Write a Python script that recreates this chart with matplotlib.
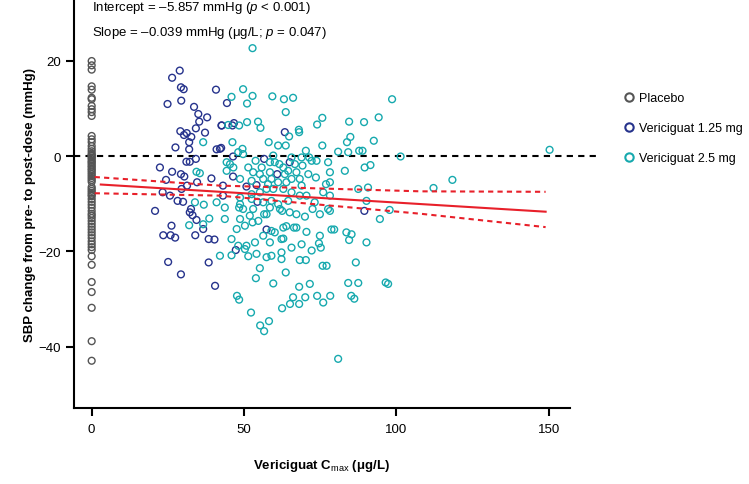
import matplotlib
matplotlib.use("Agg")
import matplotlib.pyplot as plt
from matplotlib.lines import Line2D
import numpy as np

plt.rcParams['font.family'] = ['Liberation Sans', 'DejaVu Sans']
plt.rcParams['mathtext.fontset'] = 'custom'
plt.rcParams['mathtext.rm'] = 'Liberation Sans'
plt.rcParams['mathtext.it'] = 'Liberation Sans:italic'
plt.rcParams['mathtext.bf'] = 'Liberation Sans:bold'

# ---------------- data ----------------
placebo_y = [19.9, 19.0, 18.1, 14.6, 13.9, 12.2, 11.9, 10.5, 9.8, 9.2, 8.4,
             4.2, 3.5, 2.9, 2.1, 1.5, 1.0, 0.5, 0.2, 0.0, -0.3, -0.6, -1.0,
             -1.3, -1.6, -2.0, -2.3, -2.7, -3.0, -3.4, -3.8, -4.2, -4.6, -5.0,
             -5.4, -6.5, -6.9, -7.3, -7.7, -8.1, -8.4, -9.0, -9.6, -10.2,
             -10.8, -11.5, -12.1, -12.5, -13.0, -13.6, -14.2, -14.8, -15.4,
             -16.0, -16.6, -17.2, -17.9, -18.5, -19.1, -19.7, -21.0, -22.8,
             -26.4, -28.5, -31.8, -38.8, -42.9]
placebo_x = [0.0] * len(placebo_y)

low_x = [28.9, 26.4, 29.3, 30.2, 29.4, 24.9, 33.6, 35.0, 37.9, 35.3, 34.2,
         37.2, 40.8, 29.1, 30.3, 31.2, 32.7, 32.0, 27.5, 32.0, 41.0, 42.5,
         42.7, 22.4, 26.4, 29.3, 30.4, 24.4, 23.3, 25.7, 28.2, 30.0, 20.8,
         32.6, 32.2, 33.1, 34.4, 26.2, 23.5, 25.9, 27.4, 34.0, 38.4, 40.3,
         36.6, 25.1, 38.4, 29.3, 40.5, 31.1, 32.2, 34.2, 39.3, 29.5, 31.3,
         34.6, 46.4, 56.6, 65.0, 46.4, 50.8, 54.1, 43.1, 43.1, 54.4, 57.4,
         47.3, 60.9, 42.1, 44.4, 42.6, 46.2, 46.7, 63.4, 89.5]
low_y = [17.9, 16.4, 14.4, 14.0, 11.6, 10.9, 10.3, 8.8, 8.1, 7.2, 5.8,
         4.9, 13.9, 5.2, 4.4, 4.8, 4.0, 2.9, 1.8, 1.4, 1.4, 1.7,
         6.4, -2.4, -3.3, -3.8, -4.3, -5.0, -7.6, -8.3, -9.4, -9.6, -11.5,
         -11.1, -11.8, -12.4, -13.4, -14.6, -16.6, -16.6, -17.1, -16.6, -17.4, -17.5,
         -15.3, -22.2, -22.3, -24.8, -27.2, -1.2, -1.2, -0.6, -4.7, -6.9, -6.2,
         -5.5, -0.1, -0.6, -1.3, -4.3, -6.4, -6.1, -6.2, -8.3, -9.6, -15.4,
         -19.7, -3.8, 1.5, 11.1, 6.4, 6.4, 6.9, 5.0, -11.5]

high_x = [52.8, 49.7, 45.9, 52.8, 51.0, 59.3, 63.1, 66.1, 63.7, 98.6, 75.7,
          74.0, 84.5, 89.4, 94.2, 51.0, 54.6, 55.4, 68.0, 68.1, 64.8, 46.2,
          58.1, 61.2, 63.7, 75.7, 83.8, 84.9, 92.6, 48.4,
          49.5, 80.9, 84.2, 87.8, 88.9, 101.4, 49.7, 48.1,
          45.4, 44.3, 46.5, 53.8, 55.8, 58.5, 59.6, 60.1, 61.6, 62.9, 65.6,
          66.7, 68.9, 70.3, 71.4, 72.2, 73.8, 77.6, 78.2, 83.1, 89.6, 91.5,
          69.2, 67.2, 64.5, 63.4, 58.5, 55.2, 51.4, 53.0,
          48.7, 52.5, 56.3, 57.9, 59.0, 61.2, 63.9, 65.6, 68.3, 68.9, 71.1,
          73.6, 76.9, 78.2, 65.6, 62.9, 59.6, 57.4, 55.2, 52.5,
          48.7, 52.5, 56.3, 59.0, 61.2, 64.5, 68.3, 70.5, 73.2, 76.0, 78.2,
          87.5, 90.7, 90.2, 48.7, 43.7,
          43.7, 48.4, 49.7, 53.0, 58.5, 61.8, 62.5, 65.0, 67.2, 70.0, 72.5,
          74.9, 77.6, 78.2, 94.6, 97.8, 51.9, 54.7, 56.6, 57.4, 48.7,
          45.9, 47.6, 50.3, 52.8, 56.3, 59.0, 60.1, 62.9, 63.9, 66.4, 67.2,
          70.5, 74.9, 78.7, 79.6, 83.6, 85.3, 62.3, 62.9,
          48.1, 50.8, 53.6, 58.5, 68.9, 74.6, 75.2, 84.5, 90.2, 72.2, 42.1,
          45.9, 50.3, 51.4, 54.1, 57.4, 62.3, 65.6,
          59.0, 62.3, 68.3, 70.3, 75.8, 77.1, 86.7, 55.2, 63.7, 53.9, 59.6,
          68.1, 71.6, 84.2, 87.5, 96.5, 97.3,
          150.3, 118.4, 112.2,
          36.6, 44.8, 34.4, 35.5, 36.8, 33.9, 32.0, 36.6, 38.6, 41.0, 44.3,
          47.7, 48.4, 52.3, 55.3, 56.6, 58.2, 62.5, 65.1, 66.1, 68.1, 70.1,
          74.0, 76.0, 78.3, 85.2, 86.2, 80.9]
high_y = [22.6, 14.0, 12.4, 12.6, 11.0, 12.5, 11.9, 12.2, 9.2, 11.9, 8.0,
          6.6, 7.2, 7.1, 8.1, 7.1, 7.2, 5.9, 5.5, 5.0, 4.1, 2.9,
          2.9, 2.2, 2.2, 2.2, 2.9, 4.0, 3.2, 6.4,
          1.5, 0.9, 0.8, 1.1, 1.1, -0.1, 0.4, 0.8,
          -1.7, -3.1, -2.4, -1.0, -2.4, -1.3, 0.1, -1.3, -1.7, -2.4, -0.3,
          -1.7, -0.3, 1.1, -0.3, -1.0, -1.0, -1.3, -3.4, -3.1, -2.4, -1.9,
          -2.0, -3.4, -3.1, -3.8, -3.4, -3.8, -2.4, -3.4,
          -4.8, -5.2, -4.8, -5.9, -4.8, -5.5, -5.5, -4.8, -4.8, -6.2, -3.8,
          -4.5, -5.9, -5.5, -7.6, -6.9, -6.9, -6.9, -7.6, -8.0,
          -8.7, -9.0, -9.7, -9.4, -10.1, -9.4, -8.3, -8.3, -9.7, -7.6, -8.3,
          -6.9, -6.6, -9.4, -10.1, -10.8,
          -13.2, -10.8, -11.1, -11.1, -10.8, -11.1, -11.5, -11.8, -12.2, -12.7, -11.1,
          -12.2, -11.1, -11.5, -13.2, -11.3, -12.5, -13.6, -12.2, -12.2, -13.2,
          -17.4, -15.3, -14.6, -13.9, -16.7, -15.7, -16.0, -15.0, -14.7, -15.0, -15.0,
          -15.9, -16.7, -15.4, -15.4, -16.0, -16.4, -17.4, -17.3,
          -18.8, -18.8, -18.1, -18.1, -18.5, -18.3, -19.2, -17.6, -18.1, -19.8, -20.9,
          -20.8, -19.5, -21.0, -20.5, -21.2, -20.2, -19.2,
          -20.9, -21.6, -21.8, -21.8, -23.0, -23.0, -22.3, -23.5, -24.4, -25.6, -26.7,
          -27.4, -26.8, -26.6, -26.6, -26.5, -26.8,
          1.3, -5.0, -6.7,
          2.9, 6.5, -3.3, -3.6, -10.2, -9.7, -14.5, -14.3, -13.1, -9.7, -1.3,
          -29.3, -30.1, -32.8, -35.5, -36.7, -34.6, -31.9, -31.0, -29.6, -31.0, -29.6,
          -29.3, -30.7, -29.3, -29.3, -29.9, -42.5]

# regression (intercept, slope) and confidence band
intercept = -5.857
slope = -0.039
fit_x = [3.0, 149.0]
ci_x = [1.0, 42.0, 108.0, 149.0]
ci_upper = [-4.4, -6.2, -7.4, -7.5]
ci_lower = [-7.8, -8.3, -12.1, -14.9]

group_labels = ['Placebo', 'Vericiguat 1.25 mg', 'Vericiguat 2.5 mg']
group_colors = ['#555555', '#26338C', '#16A9AE']
xticks = [0, 50, 100, 150]
yticks = [20, 0, -20, -40]

# ---------------- figure ----------------
W, H = 749, 485
fig = plt.figure(figsize=(W / 100, H / 100), dpi=100)
ax = fig.add_axes([74 / W, (H - 409) / H, (570 - 74) / W, 409 / H])
ax.set_xlim(-5.8, 157)
ax.set_ylim(-52.8, 32.9)

ms = 24
lw = 1.0
ax.scatter(placebo_x, placebo_y, s=ms, facecolors='none',
           edgecolors=group_colors[0], linewidths=lw, zorder=3)
ax.scatter(low_x, low_y, s=ms, facecolors='none',
           edgecolors=group_colors[1], linewidths=lw, zorder=3)
ax.scatter(high_x, high_y, s=ms, facecolors='none',
           edgecolors=group_colors[2], linewidths=lw, zorder=3)

# zero reference line
ax.plot([-5.8, 167.3], [0, 0], color='black', lw=1.5, ls=(0, (3, 2.5)),
        clip_on=False, zorder=2)

fx = np.array(fit_x)
ax.plot(fx, intercept + slope * fx, color='#E8202A', lw=1.5, zorder=4)
ax.plot(ci_x, ci_upper, color='#E8202A', lw=1.5, ls=(0, (2.5, 2)), zorder=4)
ax.plot(ci_x, ci_lower, color='#E8202A', lw=1.5, ls=(0, (2.5, 2)), zorder=4)

for s in ['top', 'right']:
    ax.spines[s].set_visible(False)
for s in ['left', 'bottom']:
    ax.spines[s].set_linewidth(1.5)

ax.set_xticks(xticks)
ax.set_yticks(yticks)
ax.set_yticklabels(['20', '0', '\u221220', '\u221240'])
ax.tick_params(axis='both', direction='out', length=5.5, width=1.5,
               labelsize=9.5)
ax.tick_params(axis='x', pad=5)
ax.tick_params(axis='y', pad=4)

ax.set_xlabel('Vericiguat C$_{\\rm max}$ (\u03bcg/L)', fontsize=9.5,
              fontweight='bold', labelpad=16)
ax.set_ylabel('SBP change from pre- to post-dose (mmHg)', fontsize=9.5,
              fontweight='bold', labelpad=2)

ax.text(0, 31.2, 'Intercept = \u20135.857 mmHg ($p$ < 0.001)', fontsize=9.5,
        va='center', ha='left')
ax.text(0, 26.0, 'Slope = \u20130.039 mmHg (\u03bcg/L; $p$ = 0.047)', fontsize=9.5,
        va='center', ha='left')

handles = [Line2D([], [], ls='none', marker='o', markersize=6,
                  markerfacecolor='none', markeredgecolor=c, markeredgewidth=1.5)
           for c in group_colors]
fig.legend(handles, group_labels, loc='upper left',
           bbox_to_anchor=(618 / W, 1 - 88 / H), frameon=False,
           fontsize=9, labelspacing=1.45, handletextpad=0.25,
           handlelength=1.0, borderaxespad=0)

fig.savefig('out.png', dpi=100)
